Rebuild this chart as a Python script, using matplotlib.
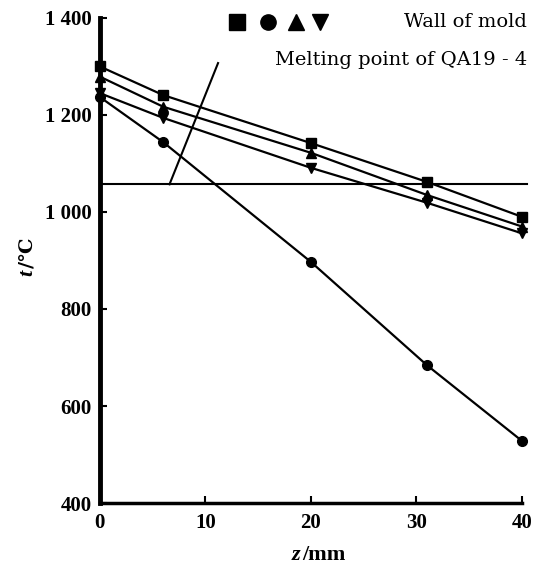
import matplotlib.pyplot as plt
from matplotlib.lines import Line2D

# Data
z = [0, 6, 20, 31, 40]
t_square = [1300, 1241, 1142, 1062, 990]
t_triangle = [1279, 1217, 1122, 1035, 970]
t_invtri = [1245, 1194, 1091, 1019, 956]
t_circle = [1237, 1144, 897, 684, 528]
melting_point = 1057

yticks = [400, 600, 800, 1000, 1200, 1400]
ytick_labels = ['400', '600', '800', '1 000', '1 200', '1 400']
xticks = [0, 10, 20, 30, 40]

plt.rcParams['font.family'] = ['Liberation Serif', 'DejaVu Serif']

fig = plt.figure(figsize=(5.34, 5.72), dpi=100)
ax = fig.add_axes([0.187, 0.1206, 0.7905, 0.848])

lw = 1.6
ax.plot(z, t_square, color='black', lw=lw, marker='s', ms=7, clip_on=False)
ax.plot(z, t_triangle, color='black', lw=lw, marker='^', ms=7, clip_on=False)
ax.plot(z, t_invtri, color='black', lw=lw, marker='v', ms=7, clip_on=False)
ax.plot(z, t_circle, color='black', lw=lw, marker='o', ms=7, clip_on=False)

# melting point line and leader
ax.plot([0, 40.5], [melting_point, melting_point], color='black', lw=1.5, clip_on=False)
ax.plot([6.6, 11.2], [melting_point, 1307], color='black', lw=1.5, clip_on=False)

ax.set_xlim(0, 40)
ax.set_ylim(400, 1400)
ax.set_xticks(xticks)
ax.set_xticklabels([str(v) for v in xticks], fontsize=15, fontweight='bold')
ax.set_yticks(yticks)
ax.set_yticklabels(ytick_labels, fontsize=15, fontweight='bold')
ax.tick_params(direction='in', length=5, width=1.5)
ax.tick_params(axis='x', pad=7)
ax.tick_params(axis='y', pad=6)

for side in ['top', 'right']:
    ax.spines[side].set_visible(False)
ax.spines['left'].set_linewidth(3.5)
ax.spines['bottom'].set_linewidth(2.5)

# axis labels built from pieces so the italic letter and the degree sign both render
fig.text(300 / 534, 1 - 555 / 572, 'z', style='italic', fontweight='bold',
         fontsize=16, ha='right', va='center')
fig.text(302 / 534, 1 - 555 / 572, '/mm', fontweight='bold',
         fontsize=16, ha='left', va='center')
fig.text(27 / 534, 1 - 270 / 572, 't', style='italic', fontweight='bold',
         fontsize=16, ha='center', va='top', rotation=90)
fig.text(27 / 534, 1 - 268 / 572, '/℃', family='DejaVu Serif', fontweight='bold',
         fontsize=14, ha='center', va='bottom', rotation=90)

# legend-like annotation in the top right
mk_y = 0.992
for xpos, m in zip([0.325, 0.398, 0.464, 0.521], ['s', 'o', '^', 'v']):
    ax.add_line(Line2D([xpos], [mk_y], marker=m, ms=11, color='black',
                       transform=ax.transAxes, clip_on=False))
ax.text(1.012, 0.992, 'Wall of mold', transform=ax.transAxes, ha='right',
        va='center', fontsize=14, family='DejaVu Serif')
ax.text(1.012, 0.913, 'Melting point of QA19 - 4', transform=ax.transAxes,
        ha='right', va='center', fontsize=14, family='DejaVu Serif')

fig.savefig('out.png', dpi=100)
